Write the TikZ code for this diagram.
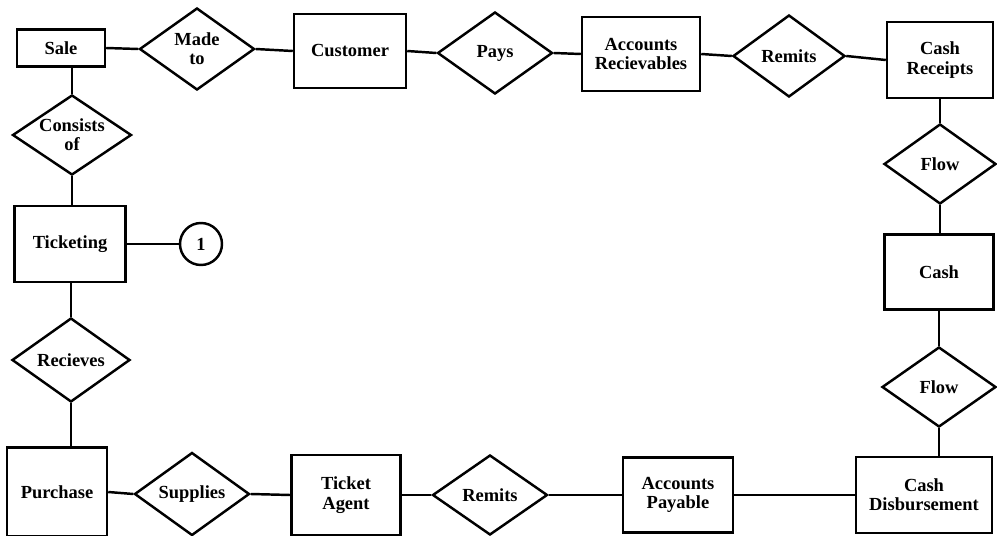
\documentclass[tikz,border=0pt]{standalone}
\usepackage{fontspec}
\setmainfont{Liberation Serif}
\usepackage{tikz}
\usetikzlibrary{shapes.geometric}

\newcommand{\erfont}{\fontsize{10.5}{11}\selectfont\bfseries}

\tikzset{
  entity/.style={draw, line width=1.4pt, minimum width=2.2cm, minimum height=1.5cm,
    inner sep=2pt, align=center, font=\erfont},
  relation/.style={draw, diamond, aspect=1.4, inner sep=0pt, line width=1.4pt,
    minimum width=2.3cm, minimum height=1.64cm, align=center, font=\erfont},
  link/.style={line width=1.4pt},
}

\begin{document}
\begin{tikzpicture}

  \useasboundingbox (0,0) rectangle (19.94,10.7);

  % Top row
  \node[entity, minimum width=1.76cm, minimum height=0.74cm] (sale) at (1.22,9.74) {Sale};
  \node[relation] (madeto) at (3.94,9.72) {Made\\to};
  \node[entity, minimum width=2.24cm, minimum height=1.48cm] (customer) at (7.00,9.68) {Customer};
  \node[relation] (pays) at (9.90,9.64) {Pays};
  \node[entity, minimum width=2.36cm, minimum height=1.48cm] (acctrec) at (12.82,9.62) {Accounts\\Recievables};
  \node[relation, minimum width=2.24cm] (remitsin) at (15.78,9.58) {Remits};
  \node[entity, minimum width=2.12cm, minimum height=1.52cm] (cashrec) at (18.80,9.50) {Cash\\Receipts};

  % Right column
  \node[relation, minimum width=2.24cm, minimum height=1.6cm] (flowin) at (18.80,7.42) {Flow};
  \node[entity, minimum width=2.18cm] (cash) at (18.78,5.26) {Cash};
  \node[relation, minimum width=2.28cm, minimum height=1.6cm] (flowout) at (18.78,2.96) {Flow};
  \node[entity, minimum width=2.72cm, minimum height=1.52cm] (cashdis) at (18.48,0.80) {Cash\\Disbursement};

  % Bottom row
  \node[entity] (acctpay) at (13.56,0.80) {Accounts\\Payable};
  \node[relation, minimum height=1.6cm] (remitsout) at (9.80,0.80) {Remits};
  \node[entity, minimum width=2.18cm, minimum height=1.6cm] (agent) at (6.92,0.80) {Ticket\\Agent};
  \node[relation, minimum height=1.66cm] (supplies) at (3.84,0.82) {Supplies};
  \node[entity, minimum width=2.0cm, minimum height=1.78cm] (purchase) at (1.14,0.86) {Purchase};

  % Left column
  \node[relation, minimum width=2.36cm, minimum height=1.68cm] (recieves) at (1.42,3.50) {Recieves};
  \node[entity, minimum width=2.22cm, minimum height=1.52cm] (ticketing) at (1.40,5.82) {Ticketing};
  \node[relation, minimum width=2.38cm, minimum height=1.6cm] (consists) at (1.44,8.00) {Consists\\of};
  \node[draw, circle, line width=1.4pt, minimum size=0.84cm, inner sep=0pt, font=\erfont] (conn) at (4.02,5.82) {1};

  % Links
  \draw[link] (sale.east) -- (madeto.west);
  \draw[link] (madeto.east) -- (customer.west);
  \draw[link] (customer.east) -- (pays.west);
  \draw[link] (pays.east) -- (acctrec.west);
  \draw[link] (acctrec.east) -- (remitsin.west);
  \draw[link] (remitsin.east) -- (cashrec.west);

  \draw[link] (flowin.north) -- (flowin.north |- cashrec.south);
  \draw[link] (flowin.south) -- (flowin.south |- cash.north);
  \draw[link] (flowout.north) -- (flowout.north |- cash.south);
  \draw[link] (flowout.south) -- (flowout.south |- cashdis.north);

  \draw[link] (cashdis.west) -- (acctpay.east);
  \draw[link] (acctpay.west) -- (remitsout.east);
  \draw[link] (remitsout.west) -- (agent.east);
  \draw[link] (agent.west) -- (supplies.east);
  \draw[link] (supplies.west) -- (purchase.east);

  \draw[link] (recieves.south) -- (recieves.south |- purchase.north);
  \draw[link] (recieves.north) -- (recieves.north |- ticketing.south);
  \draw[link] (consists.south) -- (consists.south |- ticketing.north);
  \draw[link] (consists.north) -- (consists.north |- sale.south);
  \draw[link] (ticketing.east) -- (conn.west);

\end{tikzpicture}
\end{document}
